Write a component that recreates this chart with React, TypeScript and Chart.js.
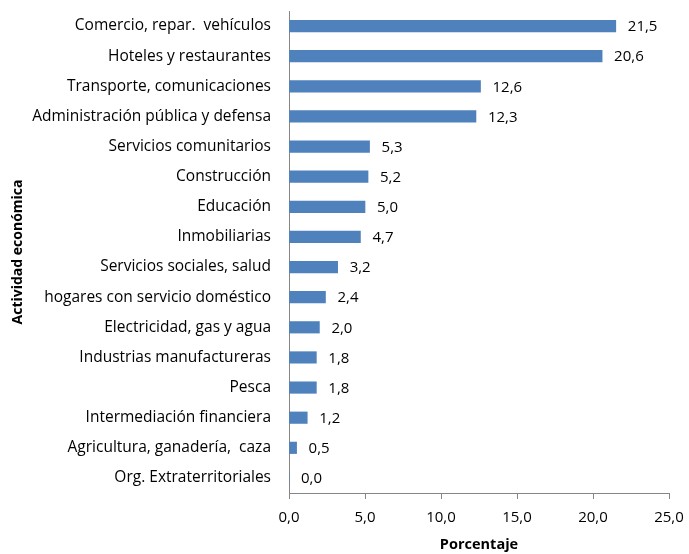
import React, { useEffect, useRef } from "react";
import { Chart, registerables } from "chart.js";

Chart.register(...registerables);

const categories = [
  "Comercio, repar.  vehículos",
  "Hoteles y restaurantes",
  "Transporte, comunicaciones",
  "Administración pública y defensa",
  "Servicios comunitarios",
  "Construcción",
  "Educación",
  "Inmobiliarias",
  "Servicios sociales, salud",
  "hogares con servicio doméstico",
  "Electricidad, gas y agua",
  "Industrias manufactureras",
  "Pesca",
  "Intermediación financiera",
  "Agricultura, ganadería,  caza",
  "Org. Extraterritoriales",
];

const values = [21.5, 20.6, 12.6, 12.3, 5.3, 5.2, 5.0, 4.7, 3.2, 2.4, 2.0, 1.8, 1.8, 1.2, 0.5, 0.0];

const xTicks = [0, 5, 10, 15, 20, 25];

const FONT = "'Open Sans', 'Noto Sans', sans-serif";
const fmt = (v: number) => v.toFixed(1).replace(".", ",");

const valueLabels = {
  id: "valueLabels",
  afterDatasetsDraw(chart: any) {
    const ctx = chart.ctx;
    const meta = chart.getDatasetMeta(0);
    ctx.save();
    ctx.font = `15px ${FONT}`;
    ctx.fillStyle = "#000";
    ctx.textAlign = "left";
    ctx.textBaseline = "middle";
    meta.data.forEach((bar: any, i: number) => {
      ctx.fillText(fmt(values[i]), bar.x + 12, bar.y + 1);
    });
    ctx.restore();
  },
};

export default function App() {
  const ref = useRef<HTMLCanvasElement>(null);
  useEffect(() => {
    document.body.style.margin = "0";
    const chart = new Chart(ref.current!, {
      type: "bar",
      data: {
        labels: categories,
        datasets: [
          {
            data: values,
            backgroundColor: "#4F81BD",
            barThickness: 11.5,
          },
        ],
      },
      plugins: [valueLabels],
      options: {
        indexAxis: "y",
        responsive: false,
        animation: false,
        layout: { padding: { top: 11, right: 20, left: 8, bottom: 0 } },
        plugins: { legend: { display: false }, tooltip: { enabled: false } },
        scales: {
          x: {
            min: 0,
            max: 25,
            afterBuildTicks(scale: any) {
              scale.ticks = xTicks.map((v) => ({ value: v }));
            },
            afterFit(scale: any) {
              scale.height = 61;
              scale.paddingLeft = 0;
              scale.paddingRight = 0;
            },
            ticks: {
              color: "#000",
              font: { family: FONT, size: 15 },
              padding: 10,
              callback: (v: any) => fmt(Number(v)),
              maxRotation: 0,
            },
            grid: {
              display: true,
              drawOnChartArea: false,
              drawTicks: true,
              tickLength: 6,
              color: "#868686",
            },
            border: { display: true, color: "#868686", width: 1 },
            title: {
              display: true,
              text: "Porcentaje",
              color: "#000",
              font: { family: FONT, size: 14.5, weight: "bold" },
              padding: { top: 2, bottom: 0 },
            },
          },
          y: {
            afterFit(scale: any) {
              scale.width = 281;
              scale.paddingTop = 0;
              scale.paddingBottom = 0;
            },
            ticks: {
              color: "#000",
              font: { family: FONT, size: 15.5 },
              padding: 18,
              autoSkip: false,
            },
            grid: { display: false, drawTicks: false },
            border: { display: true, color: "#868686", width: 1 },
            title: {
              display: true,
              text: "Actividad económica",
              color: "#000",
              font: { family: FONT, size: 14, weight: "bold" },
              padding: { top: 2, bottom: 0 },
            },
          },
        },
      },
    } as any);
    return () => chart.destroy();
  }, []);
  return <canvas ref={ref} width={689} height={554} style={{ display: "block" }} />;
}
